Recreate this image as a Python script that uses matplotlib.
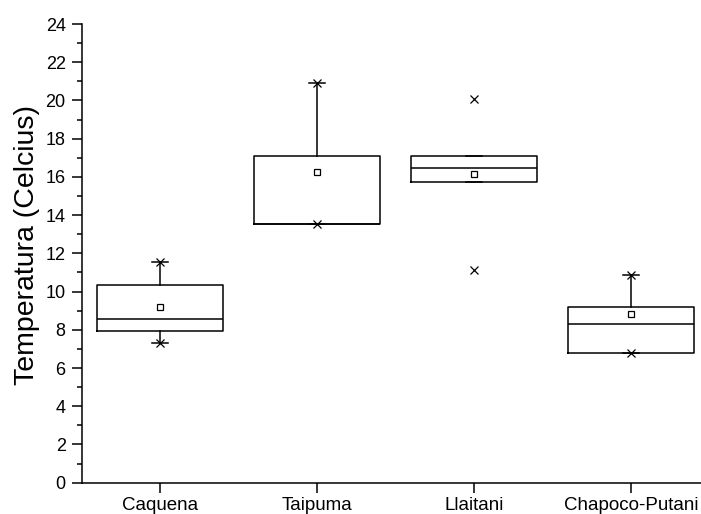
import numpy as np
import matplotlib
matplotlib.use("Agg")
import matplotlib.pyplot as plt
from matplotlib.ticker import MultipleLocator

plt.rcParams["font.family"] = ["Liberation Sans", "DejaVu Sans"]

# valores (Temperatura, °C)
sites = ["Caquena", "Taipuma", "Llaitani", "Chapoco-Putani"]
q1 = [7.94, 13.52, 15.75, 6.80]
median = [8.55, 13.52, 16.47, 8.30]
q3 = [10.35, 17.11, 17.11, 9.18]
mean = [9.21, 16.27, 16.14, 8.81]
whisker_lo = [7.29, 13.52, 15.75, 6.80]
whisker_hi = [11.56, 20.90, 17.11, 10.87]
# marcadores "x" (1% / 99%)
pct_lo = [7.29, 13.52, 11.13, 6.80]
pct_hi = [11.56, 20.90, 20.08, 10.87]

positions = np.arange(1, len(sites) + 1)

fig = plt.figure(figsize=(7.01, 5.14), dpi=100)
ax = fig.add_axes([81.7 / 701, (514 - 482.7) / 514, 628 / 701, 458.7 / 514])

stats = []
for i, name in enumerate(sites):
    stats.append(dict(label=name, q1=q1[i], med=median[i], q3=q3[i],
                      whislo=whisker_lo[i], whishi=whisker_hi[i],
                      mean=mean[i], fliers=[]))

lw = 1.1
ax.bxp(stats, positions=positions, widths=0.8, capwidths=0.1,
       showmeans=True, showfliers=False,
       boxprops=dict(color="black", lw=lw),
       medianprops=dict(color="black", lw=lw),
       whiskerprops=dict(color="black", lw=lw),
       capprops=dict(color="black", lw=lw),
       meanprops=dict(marker="s", markersize=4.5, markerfacecolor="white",
                      markeredgecolor="black", markeredgewidth=0.9))

ax.plot(positions, pct_lo, ls="none", marker="x", ms=5.5, mew=0.9, color="black")
ax.plot(positions, pct_hi, ls="none", marker="x", ms=5.5, mew=0.9, color="black")

ax.set_xlim(0.5, 4.5)
ax.set_ylim(0, 24)
ax.yaxis.set_major_locator(MultipleLocator(2))
ax.yaxis.set_minor_locator(MultipleLocator(1))
ax.set_xticks(positions)
ax.set_xticklabels(sites)

for s in ["top", "right"]:
    ax.spines[s].set_visible(False)
for s in ["left", "bottom"]:
    ax.spines[s].set_linewidth(1.1)

ax.tick_params(axis="both", which="major", direction="out", length=7, width=1.1)
ax.tick_params(axis="y", which="major", labelsize=13, pad=4.5)
ax.tick_params(axis="x", which="major", labelsize=13.5, pad=3.5)
ax.tick_params(axis="y", which="minor", direction="out", length=3.8, width=1.1)
ax.set_ylabel("Temperatura (Celcius)", fontsize=20.5)
ax.yaxis.set_label_coords(-0.066, 0.518)

fig.savefig("out.png", dpi=100)
